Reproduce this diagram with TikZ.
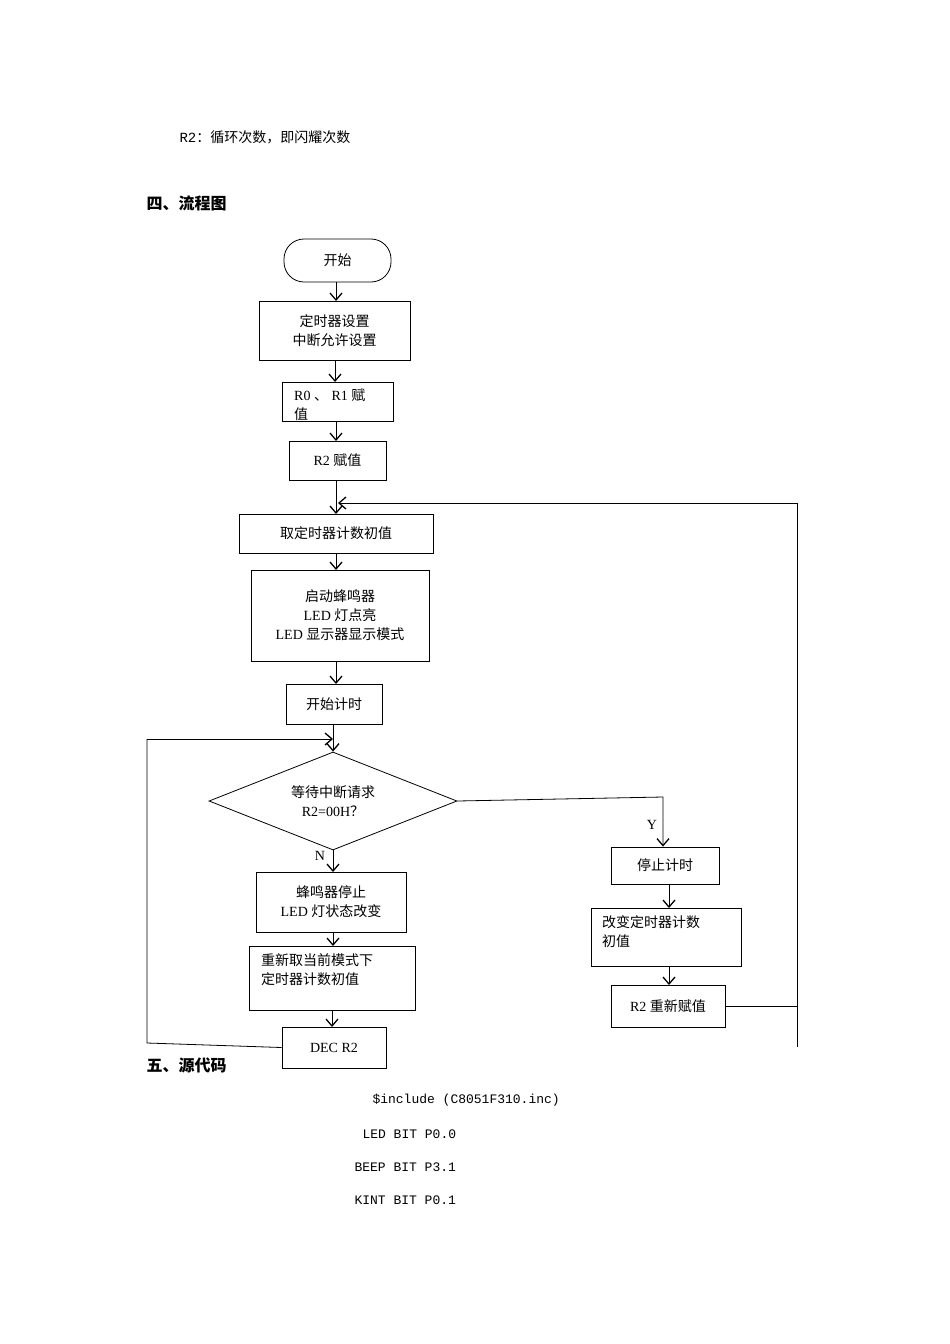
\documentclass[tikz,border=0pt]{standalone}
\usepackage{fontspec}
\setmainfont{Liberation Serif}
\newfontfamily\cjk{Noto Sans CJK SC}
\newfontfamily\mono{Liberation Mono}
\usetikzlibrary{arrows.meta,shapes.geometric}
\begin{document}
\begin{tikzpicture}[x=1pt,y=-1pt,
  box/.style={draw,thick,minimum width=#1,align=center,inner sep=0pt,font=\fontsize{14}{19}\selectfont},
  arr/.style={-{Straight Barb[length=7pt,width=12pt,line width=1.3pt]}},
  ln/.style={line width=0.8pt}]
\useasboundingbox (0,0) rectangle (950,1344);
\node[anchor=west,font=\mono\fontsize{14}{16}\selectfont] (t1) at (176,137) {R2{\cjk ：循环次数，即闪耀次数}};
\node[anchor=west,font=\cjk\bfseries\fontsize{16}{18}\selectfont] (t2) at (143,203) {四、流程图};
\node[anchor=west,font=\cjk\bfseries\fontsize{16}{18}\selectfont] (t3) at (143,1065) {五、源代码};
\node[anchor=west,font=\mono\fontsize{13}{15}\selectfont] (c1) at (369,1100) {\$include (C8051F310.inc)};
\node[anchor=west,font=\mono\fontsize{13}{15}\selectfont] (c2) at (359,1134) {LED BIT P0.0};
\node[anchor=west,font=\mono\fontsize{13}{15}\selectfont] (c3) at (351,1167) {BEEP BIT P3.1};
\node[anchor=west,font=\mono\fontsize{13}{15}\selectfont] (c4) at (351,1200) {KINT BIT P0.1};

\node[box=107pt,minimum height=43pt,rounded corners=20pt] (s) at (337.5,260.5) {\cjk 开始};
\node[box=151pt,minimum height=59pt] (b1) at (334.5,330.5) {\cjk 定时器设置\\\cjk 中断允许设置};
\node[box=111pt,minimum height=39pt] (b2) at (337.5,401.5) {};
\node[anchor=north west,align=left,font=\fontsize{14}{19}\selectfont,inner sep=0pt] (b2t) at (294,389) {R0 {\cjk 、} R1 {\cjk 赋}\\{\cjk 值}};
\node[box=97pt,minimum height=39pt] (b3) at (337.5,460.5) {R2 {\cjk 赋值}};
\node[box=194pt,minimum height=39pt] (b4) at (336,533.5) {\cjk 取定时器计数初值};
\node[box=178pt,minimum height=91pt] (b5) at (340,615.5) {{\cjk 启动蜂鸣器}\\LED {\cjk 灯点亮}\\LED {\cjk 显示器显示模式}};
\node[box=96pt,minimum height=40pt] (b6) at (334,704) {\cjk 开始计时};
\node[draw,thick,diamond,aspect=2.53,minimum width=248pt,minimum height=98pt,inner sep=0pt,align=center,font=\fontsize{14}{19}\selectfont] (d) at (333,801) {{\cjk 等待中断请求}\\R2=00H{\cjk ？}};
\node[box=150pt,minimum height=60pt] (b7) at (331,902) {{\cjk 蜂鸣器停止}\\LED {\cjk 灯状态改变}};
\node[box=166pt,minimum height=64pt] (b8) at (332,978) {};
\node[anchor=north west,align=left,font=\cjk\fontsize{14}{19}\selectfont,inner sep=0pt] (b8t) at (261,953) {重新取当前模式下\\定时器计数初值};
\node[box=104pt,minimum height=41pt] (b9) at (334,1047.5) {DEC R2};
\node[box=108pt,minimum height=37pt] (r1) at (665,865.5) {\cjk 停止计时};
\node[box=150pt,minimum height=58pt] (r2) at (666,937) {};
\node[anchor=north west,align=left,font=\cjk\fontsize{14}{19}\selectfont,inner sep=0pt] (r2t) at (602,915) {改变定时器计数\\初值};
\node[box=114pt,minimum height=42pt] (r3) at (668,1006) {R2 {\cjk 重新赋值}};

\coordinate (loopR) at (797,503);
\coordinate (loopRb) at (797,1047);
\coordinate (loopL) at (147,739);
\coordinate (loopLb) at (147,1043);
\coordinate (yc) at (663,797);

\draw[ln,arr] (s.south -| 336,0) -- (336,301);
\draw[ln,arr] (335,360) -- (335,382);
\draw[ln,arr] (336,421) -- (336,441);
\draw[ln,arr] (336,480) -- (336,514);
\draw[ln,arr] (336,553) -- (336,570);
\draw[ln,arr] (336,661) -- (336,684);
\draw[ln,arr] (333,724) -- (d.north);
\draw[ln,arr] (333,850) -- (333,872);
\draw[ln,arr] (333,932) -- (333,946);
\draw[ln,arr] (332,1010) -- (332,1027);
\draw[ln,arr] (669,884) -- (669,908);
\draw[ln,arr] (669,966) -- (669,985);
\draw[ln] (r3.east) -- (797,1006);
\draw[ln] (loopRb) -- (loopR);
\draw[ln,arr] (loopR) -- (338,503);
\draw[ln] (b9.west) -- (loopLb) -- (loopL);
\draw[ln,arr] (loopL) -- (333,739);
\draw[ln,arr] (d.east) -- (yc) -- (r1.north -| yc);
\node[font=\fontsize{14}{16}\selectfont] (Y) at (652,825) {Y};
\node[font=\fontsize{14}{16}\selectfont] (N) at (320,856) {N};
\end{tikzpicture}
\end{document}
